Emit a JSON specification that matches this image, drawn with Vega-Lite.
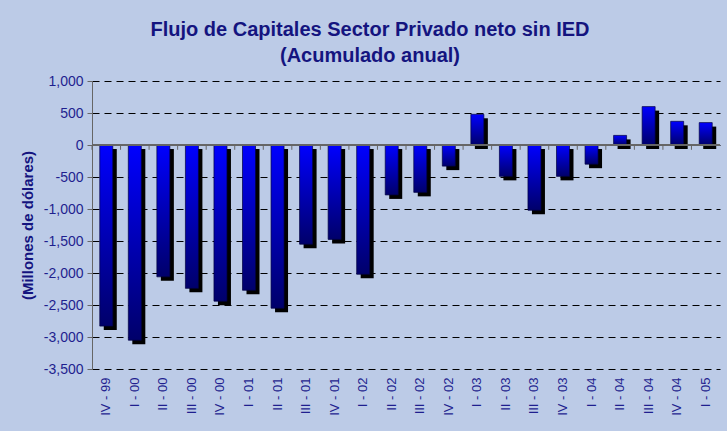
{
  "$schema": "https://vega.github.io/schema/vega-lite/v6.json",
  "width": 628,
  "height": 288,
  "autosize": {"type": "none"},
  "padding": {"left": 92, "top": 81, "right": 7, "bottom": 62},
  "background": "#bccbe7",
  "title": {
    "text": ["Flujo de Capitales Sector Privado neto sin IED", "(Acumulado anual)"],
    "font": "Liberation Sans",
    "fontSize": 20,
    "fontWeight": "bold",
    "color": "#14147f",
    "lineHeight": 26,
    "anchor": "middle",
    "dx": -36,
    "offset": 8
  },
  "config": {
    "view": {"stroke": null},
    "font": "Liberation Sans"
  },
  "data": {
    "values": [
      {"q": "IV - 99", "v": -2830},
      {"q": "I - 00", "v": -3050},
      {"q": "II - 00", "v": -2060},
      {"q": "III - 00", "v": -2240},
      {"q": "IV - 00", "v": -2440},
      {"q": "I - 01", "v": -2270},
      {"q": "II - 01", "v": -2550},
      {"q": "III - 01", "v": -1550},
      {"q": "IV - 01", "v": -1475},
      {"q": "I - 02", "v": -2020},
      {"q": "II - 02", "v": -780},
      {"q": "III - 02", "v": -740},
      {"q": "IV - 02", "v": -330},
      {"q": "I - 03", "v": 480},
      {"q": "II - 03", "v": -490},
      {"q": "III - 03", "v": -1020},
      {"q": "IV - 03", "v": -490},
      {"q": "I - 04", "v": -300},
      {"q": "II - 04", "v": 150},
      {"q": "III - 04", "v": 600},
      {"q": "IV - 04", "v": 370},
      {"q": "I - 05", "v": 350}
    ]
  },
  "encoding": {
    "x": {
      "field": "q",
      "type": "nominal",
      "sort": null,
      "scale": {"paddingInner": 0, "paddingOuter": 0},
      "axis": {
        "title": null,
        "labelAngle": 270,
        "labelFontSize": 13,
        "labelColor": "#1f1f8f",
        "labelPadding": 8,
        "domain": false,
        "ticks": false,
        "grid": false
      }
    }
  },
  "layer": [
    {
      "mark": {"type": "bar", "size": 13, "color": "#000000", "xOffset": 4, "yOffset": 4, "y2Offset": 4},
      "encoding": {
        "y": {
          "field": "v",
          "type": "quantitative",
          "scale": {"domain": [-3500, 1000], "nice": false, "zero": false},
          "axis": {
            "title": "(Millones de dólares)",
            "titleFontSize": 15,
            "titleFontWeight": "bold",
            "titleColor": "#14147f",
            "titlePadding": 8,
            "values": [-3500, -3000, -2500, -2000, -1500, -1000, -500, 0, 500, 1000],
            "tickCount": 20,
            "format": ",.0f",
            "labelExpr": "replace(datum.label, '\u2212', '-')",
            "labelOverlap": false,
            "labelFontSize": 14,
            "labelColor": "#1f1f8f",
            "labelPadding": 4,
            "domainColor": "#666666",
            "tickColor": "#666666",
            "tickSize": 5,
            "gridColor": "#000000",
            "gridDash": [7, 5],
            "gridWidth": 1
          }
        },
        "y2": {"datum": 0}
      }
    },
    {
      "mark": {
        "type": "bar",
        "size": 13,
        "stroke": "#000040",
        "strokeWidth": 0.7,
        "color": {
          "gradient": "linear",
          "x1": 0, "y1": 0, "x2": 0, "y2": 1,
          "stops": [
            {"offset": 0, "color": "#0000ff"},
            {"offset": 1, "color": "#00006a"}
          ]
        }
      },
      "encoding": {
        "y": {"field": "v", "type": "quantitative"},
        "y2": {"datum": 0}
      }
    },
    {
      "mark": {"type": "rule", "color": "#666666", "strokeWidth": 1},
      "encoding": {"y": {"datum": 0}, "x": {"value": 0}, "x2": {"value": 628}}
    },
    {
      "mark": {"type": "rule", "color": "#666666", "strokeWidth": 1},
      "encoding": {
        "x": {"field": "q", "type": "nominal", "sort": null, "bandPosition": 0},
        "y": {"datum": 0},
        "y2": {"datum": -75}
      }
    }
  ]
}
